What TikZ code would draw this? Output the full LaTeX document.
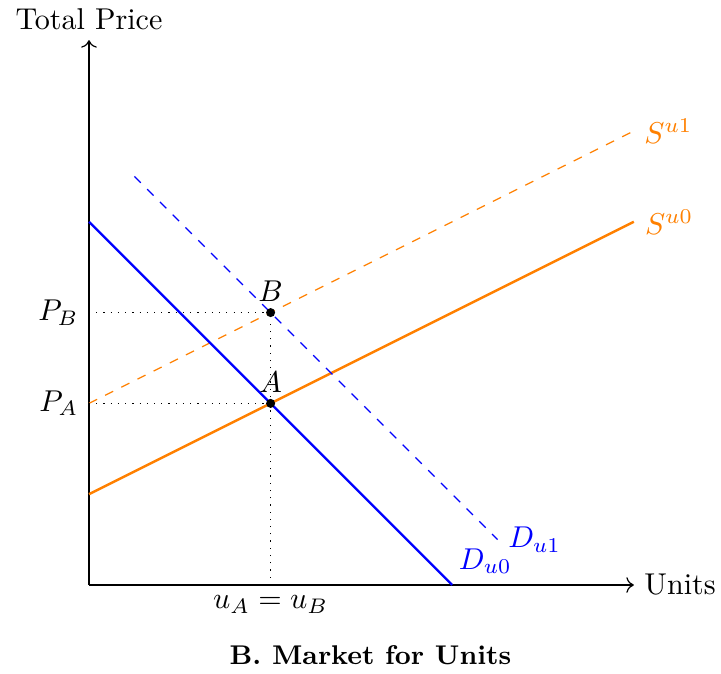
\documentclass[tikz,border=0pt]{standalone}
\usetikzlibrary{arrows.meta}
\begin{document}
\begin{tikzpicture}[x=0.53cm,y=0.53cm,
  axis/.style={->},
  supply/.style={orange,thick},
  supplyshift/.style={orange,dashed},
  demand/.style={blue,thick},
  demandshift/.style={blue,dashed},
  guide/.style={dotted},
  pt/.style={circle,fill=black,inner sep=0pt,minimum size=3pt}]
\useasboundingbox (-1.96,-1.938) rectangle (13.92,12.885);
% axes
\coordinate (O) at (0,0);
\coordinate (ytop) at (0,12);
\coordinate (xend) at (12,0);
\draw[axis] (O) -- (ytop) node[above] (ylab) {Total Price};
\draw[axis] (O) -- (xend) node[right] (xlab) {Units};
% curves
\coordinate (s0a) at (0,2); \coordinate (s0b) at (12,8);
\coordinate (s1a) at (0,4); \coordinate (s1b) at (12,10);
\coordinate (d0a) at (0,8); \coordinate (d0b) at (8,0);
\coordinate (d1a) at (1,9); \coordinate (d1b) at (9,1);
\draw[supply] (s0a) -- (s0b) node[right] (S0) {$S^{u0}$};
\draw[supplyshift] (s1a) -- (s1b) node[right] (S1) {$S^{u1}$};
\draw[demand] (d0a) -- (d0b) node[above right,xshift=-1.5pt] (D0) {$D_{u0}$};
\draw[demandshift] (d1a) -- (d1b) node[right] (D1) {$D_{u1}$};
% points
\node[pt] (A) at (4,4) {};
\node[pt] (B) at (4,6) {};
\node[above] at (A) {$A$};
\node[above] at (B) {$B$};
\coordinate (pa) at (0,4);
\coordinate (pb) at (0,6);
\coordinate (ua) at (4,0);
\draw[guide] (pa) -- (A);
\draw[guide] (pb) -- (B);
\draw[guide] (ua) -- (B);
\node[left] (PA) at (pa) {$P_A$};
\node[left] (PB) at (pb) {$P_B$};
\node[below] (UA) at (ua) {$u_A = u_B$};
\node (cap) at (6.2,-1.54) {\small\bfseries B. Market for Units};
\end{tikzpicture}
\end{document}
